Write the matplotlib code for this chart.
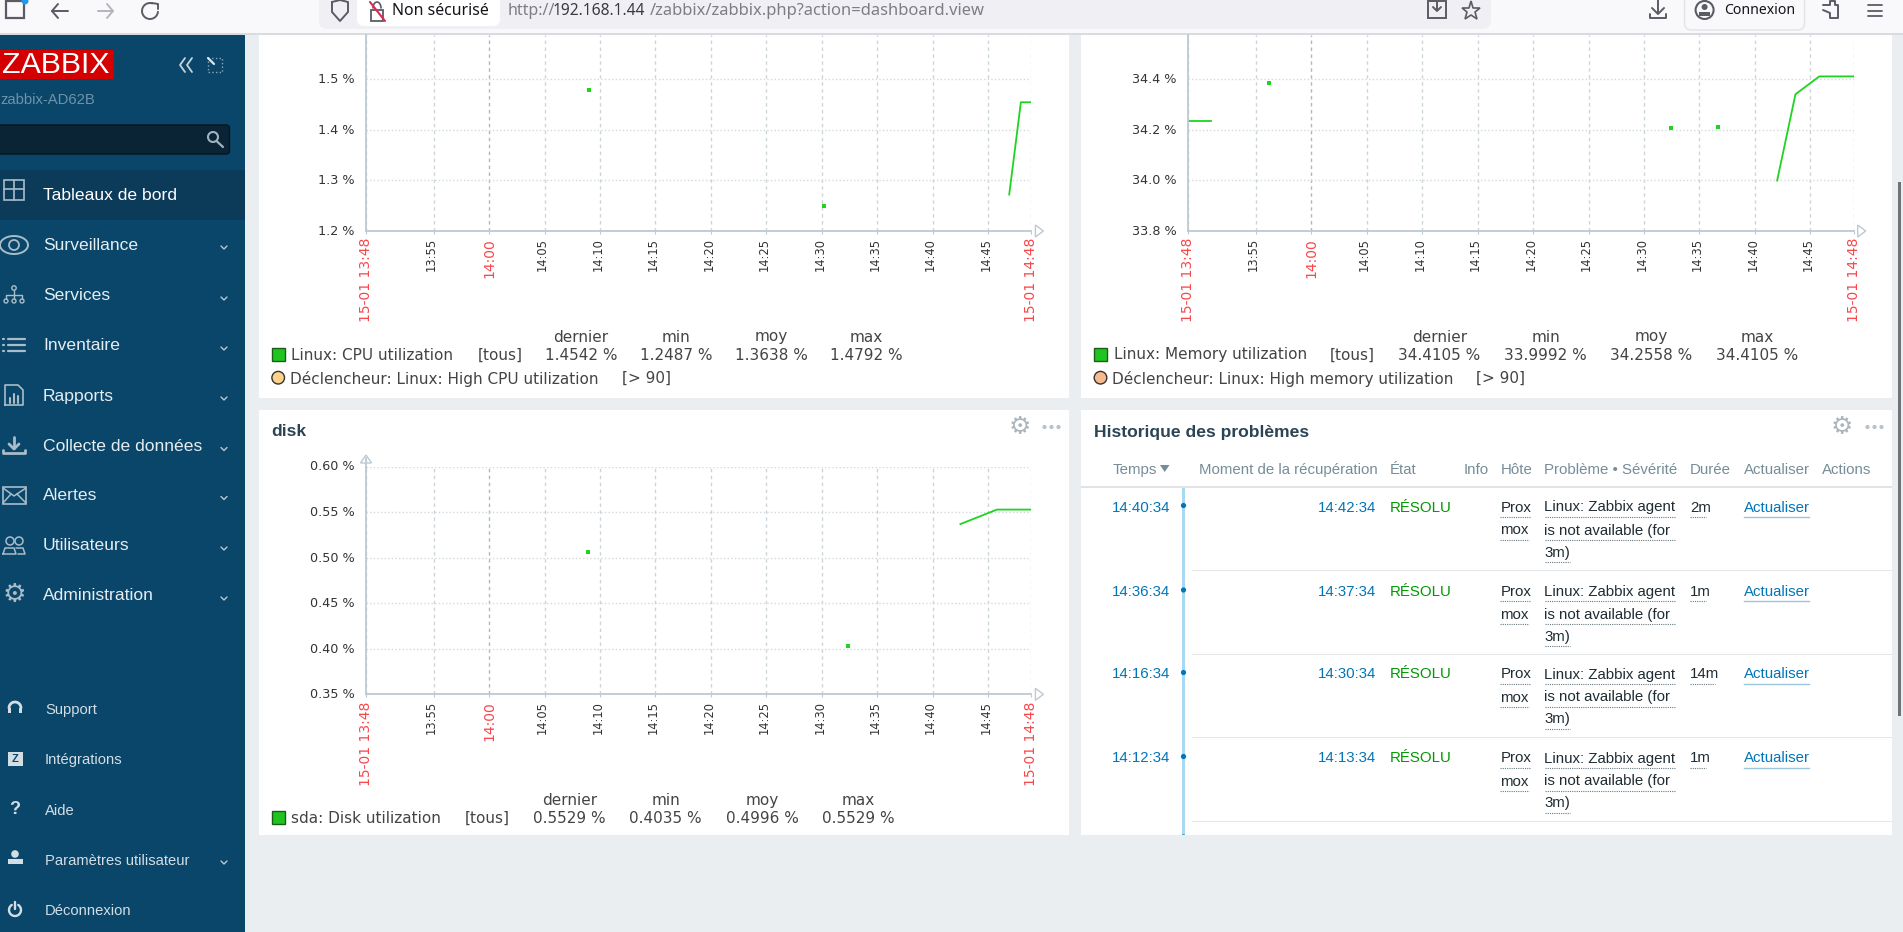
import numpy as np
import matplotlib
matplotlib.use("Agg")
import matplotlib.pyplot as plt
from matplotlib.patches import Rectangle, FancyBboxPatch, Circle, Polygon
from matplotlib.transforms import ScaledTranslation

W, H = 1903, 932

# time axis, minutes after 13:00
window = [48.9, 108.9]
tick_minutes = [55, 60, 65, 70, 75, 80, 85, 90, 95, 100, 105]
tick_labels = ["13:55", "14:00", "14:05", "14:10", "14:15", "14:20", "14:25", "14:30", "14:35", "14:40", "14:45"]
edge_start = "15-01 13:48"
edge_end = "15-01 14:48"

cpu_line_t = [106.9, 107.95, 108.9]
cpu_line_v = [1.272, 1.4542, 1.4542]
cpu_point_t = [69.03, 90.2]
cpu_point_v = [1.4792, 1.2487]
cpu_yticks = [1.2, 1.3, 1.4, 1.5]
cpu_stats = ["1.4542 %", "1.2487 %", "1.3638 %", "1.4792 %"]

mem_seg_t = [48.9, 50.95]
mem_seg_v = [34.235, 34.235]
mem_line_t = [102.0, 103.65, 105.8, 108.9]
mem_line_v = [33.9992, 34.34, 34.4105, 34.4105]
mem_point_t = [56.2, 92.4, 96.7]
mem_point_v = [34.385, 34.207, 34.212]
mem_yticks = [33.8, 34.0, 34.2, 34.4]
mem_stats = ["34.4105 %", "33.9992 %", "34.2558 %", "34.4105 %"]

disk_line_t = [102.5, 105.8, 108.9]
disk_line_v = [0.537, 0.5529, 0.5529]
disk_point_t = [68.95, 92.4]
disk_point_v = [0.506, 0.4035]
disk_yticks = [0.35, 0.40, 0.45, 0.50, 0.55, 0.60]
disk_stats = ["0.5529 %", "0.4035 %", "0.4996 %", "0.5529 %"]

stat_names = ["dernier", "min", "moy", "max"]

menu_main = ["Tableaux de bord", "Surveillance", "Services", "Inventaire", "Rapports",
             "Collecte de données", "Alertes", "Utilisateurs", "Administration"]
menu_low = ["Support", "Intégrations", "Aide", "Paramètres utilisateur", "Déconnexion"]

table_heads = ["Moment de la récupération", "État", "Info", "Hôte", "Problème • Sévérité", "Durée", "Actualiser", "Actions"]
start_times = ["14:40:34", "14:36:34", "14:16:34", "14:12:34"]
end_times = ["14:42:34", "14:37:34", "14:30:34", "14:13:34"]
durations = ["2m", "1m", "14m", "1m"]

BG = "#ebeef0"
SIDE = "#0a466a"
GREEN = "#1fd41f"
SANS = "Liberation Sans"
BROWSER = "Noto Sans"
LEG = 15.2

fig = plt.figure(figsize=(W / 100, H / 100), dpi=100, facecolor=BG)
ui = fig.add_axes([0, 0, 1, 1], zorder=-1)
ui.set_xlim(0, W)
ui.set_ylim(H, 0)
ui.axis("off")


def txt(x, y, s, px=14, color="#333333", ha="left", va="center", family=SANS, **kw):
    return ui.text(x, y, s, fontsize=px * 0.72, color=color, ha=ha, va=va, family=family, **kw)


def rect(x0, y0, x1, y1, color, z=1, **kw):
    ui.add_patch(Rectangle((x0, y0), x1 - x0, y1 - y0, facecolor=color, edgecolor="none", zorder=z, **kw))


def stroke(xs, ys, color, lw=1.4, z=5):
    ui.plot(xs, ys, color=color, lw=lw, solid_capstyle="round", zorder=z)


def px_axes(x0, x1, y_base, y_top):
    return fig.add_axes([x0 / W, 1 - y_base / H, (x1 - x0) / W, (y_base - y_top) / H], facecolor="none")


def graph(x0, x1, y_base, y_top, ylim, yticks, yfmt):
    ax = px_axes(x0, x1, y_base, y_top)
    ax.set_xlim(window)
    ax.set_ylim(ylim)
    ax.spines["top"].set_visible(False)
    ax.spines["right"].set_visible(False)
    ax.spines["left"].set_color("#bccad3")
    ax.spines["bottom"].set_color("#bccad3")
    ax.spines["left"].set_linewidth(1.3)
    ax.spines["bottom"].set_linewidth(1.3)
    ax.set_yticks(yticks)
    ax.set_yticklabels([yfmt % v for v in yticks], fontsize=9.2, color="#333333", family="DejaVu Sans")
    ax.tick_params(axis="y", length=0, pad=8)
    ax.set_xticks([window[0]] + tick_minutes + [window[1]])
    ax.set_xticklabels([edge_start] + tick_labels + [edge_end], rotation=90, family="DejaVu Sans")
    ax.tick_params(axis="x", length=2, color="#bccad3", pad=3)
    left_shift = ScaledTranslation(-2 / 100, 0, fig.dpi_scale_trans)
    up_shift = ScaledTranslation(0, 1.2 / 100, fig.dpi_scale_trans)
    for lab in ax.get_yticklabels():
        lab.set_transform(lab.get_transform() + up_shift)
    for lab in ax.get_xticklabels():
        if lab.get_text() in (edge_start, edge_end, "14:00"):
            lab.set_color("#f9474b")
            lab.set_fontsize(10)
        else:
            lab.set_color("#333333")
            lab.set_fontsize(8.3)
            lab.set_transform(lab.get_transform() + left_shift)
    ax.grid(axis="y", color="#d3dade", lw=1, ls=(0, (1, 1.6)))
    ax.grid(axis="x", color="#ccd5da", lw=1, ls=(0, (2.5, 2.5)))
    ax.get_xgridlines()[2].set_color("#a9bac4")
    ax.set_axisbelow(True)
    # axis end arrow
    ui.add_patch(Polygon([[x1 + 4, y_base - 6], [x1 + 4, y_base + 6], [x1 + 12, y_base]], closed=True,
                         facecolor="white", edgecolor="#bccad3", lw=1, zorder=4))
    return ax


def legend_row(x_box, y, label, tag_x, stats, col_x):
    rect(x_box, y - 6.5, x_box + 13, y + 6.5, "#1fc41f", z=3)
    ui.add_patch(Rectangle((x_box, y - 6.5), 13, 13, facecolor="none", edgecolor="#1b5c1b", lw=1, zorder=4))
    txt(x_box + 19.5, y + 1, label, px=LEG, family="DejaVu Sans", color="#444444")
    txt(tag_x, y + 1, "[tous]", px=LEG, family="DejaVu Sans", ha="center", color="#444444")
    for name, val, cx in zip(stat_names, stats, col_x):
        txt(cx, y - 17, name, px=LEG, family="DejaVu Sans", ha="center", color="#444444")
        txt(cx, y + 1, val, px=LEG, family="DejaVu Sans", ha="center", color="#444444")


def trigger_row(x_box, y, label, tag_x, color):
    ui.add_patch(Circle((x_box + 6.5, y), 6.3, facecolor=color, edgecolor="#333333", lw=1, zorder=4))
    txt(x_box + 18.5, y + 1, label, px=LEG, family="DejaVu Sans", color="#444444")
    txt(tag_x, y + 1, "[> 90]", px=LEG, family="DejaVu Sans", color="#444444")


def head_icons(xg, xd, y):
    txt(xg, y, "\u2699", px=25, color="#aab5bc", ha="center", family="DejaVu Sans", fontweight="bold")
    for dx in (-7, 0, 7):
        ui.add_patch(Circle((xd + dx, y), 2.1, facecolor="#b8c2c8", edgecolor="none", zorder=4))


# panels
rect(258.5, 35, 1069, 398, "white")
rect(1080.6, 35, 1892, 398, "white")
rect(258.5, 409.7, 1069, 835, "white")
rect(1080.6, 409.7, 1892, 835, "white")

# cpu graph
ax1 = graph(366, 1031.4, 231, 35, (1.2, 1.587), cpu_yticks, "%.1f %%")
ax1.plot(cpu_line_t, cpu_line_v, color=GREEN, lw=1.3)
ax1.plot(cpu_point_t, cpu_point_v, ls="none", marker="s", ms=2.6, color=GREEN, mew=0)
legend_row(271.7, 354, "Linux: CPU utilization", 500, cpu_stats, [581, 676, 771.5, 866.7])
trigger_row(271.7, 377.7, "Déclencheur: Linux: High CPU utilization", 622, "#ffd28c")

# memory graph
ax2 = graph(1188, 1853.7, 231, 35, (33.8, 34.574), mem_yticks, "%.1f %%")
ax2.plot(mem_seg_t, mem_seg_v, color=GREEN, lw=1.3)
ax2.plot(mem_line_t, mem_line_v, color=GREEN, lw=1.3)
ax2.plot(mem_point_t, mem_point_v, ls="none", marker="s", ms=2.6, color=GREEN, mew=0)
legend_row(1094, 354, "Linux: Memory utilization", 1352, mem_stats, [1439.3, 1545.6, 1651, 1757.6])
trigger_row(1094, 377.7, "Déclencheur: Linux: High memory utilization", 1476.5, "#f9b98f")

# disk graph
ax3 = graph(366, 1031.4, 694.3, 466.7, (0.35, 0.60), disk_yticks, "%.2f %%")
ax3.plot(disk_line_t, disk_line_v, color=GREEN, lw=1.3)
ax3.plot(disk_point_t, disk_point_v, ls="none", marker="s", ms=2.6, color=GREEN, mew=0)
stroke([366, 366], [466.7, 458], "#bccad3", lw=1.3)
ui.add_patch(Polygon([[360.5, 463], [371.5, 463], [366, 455]], closed=True, facecolor="white",
                     edgecolor="#bccad3", lw=1, zorder=4))
legend_row(271.7, 817.3, "sda: Disk utilization", 487.7, disk_stats, [569.7, 665.6, 762, 858.3])
txt(271, 432, "disk", px=17.5, color="#2b4555", fontweight="bold")
head_icons(1019.7, 1051.5, 427)

# problems table
CELL = 15
txt(1094, 432, "Historique des problèmes", px=17.5, color="#2b4555", fontweight="bold")
head_icons(1841.5, 1874.5, 427)
HEAD = "#768d99"
txt(1112.5, 470, "Temps", px=CELL, color=HEAD)
ui.add_patch(Polygon([[1160, 465], [1169.5, 465], [1164.7, 472]], closed=True, facecolor=HEAD, edgecolor="none"))
for s, x in zip(table_heads, [1198.6, 1389.3, 1463.7, 1500.4, 1544.5, 1690, 1743.7, 1821.8]):
    txt(x, 470, s, px=CELL, color=HEAD)
rect(1080.6, 485.5, 1892, 488, "#dfe4e7")
rect(1182, 488, 1185, 835, "#a9d8f2", z=2)
for sy in [570.3, 654.3, 737.7, 821.3]:
    rect(1192, sy - 0.5, 1892, sy + 0.5, "#e4e8ea")
LINK = "#0275b8"
for st, en, du, y in zip(start_times, end_times, durations, [507.5, 592, 674.5, 758.5]):
    txt(1170, y, st, px=CELL, color=LINK, ha="right")
    txt(1376.6, y, en, px=CELL, color=LINK, ha="right")
    txt(1389.3, y, "RÉSOLU", px=CELL, color="#009900")
    ui.add_patch(Circle((1183.5, y - 2), 2.6, facecolor=LINK, edgecolor="none", zorder=4))
    txt(1500.4, y, "Prox", px=CELL, color="#1f2c33")
    txt(1500.4, y + 23, "mox", px=CELL, color="#1f2c33")
    txt(1544.5, y, "Linux: Zabbix agent", px=CELL, color="#1f2c33")
    txt(1544.5, y + 23, "is not available (for", px=CELL, color="#1f2c33")
    txt(1544.5, y + 45, "3m)", px=CELL, color="#1f2c33")
    txt(1690, y, du, px=CELL, color="#1f2c33")
    txt(1743.7, y, "Actualiser", px=CELL, color=LINK)
    ui.plot([1743.7, 1809], [y + 9, y + 9], color="#9cc6e0", lw=1)
    ui.plot([1500.4, 1531], [y + 9, y + 9], color="#6b7980", lw=0.8, ls=(0, (1, 1)))
    ui.plot([1500.4, 1529], [y + 32, y + 32], color="#6b7980", lw=0.8, ls=(0, (1, 1)))
    ui.plot([1544.5, 1676], [y + 9, y + 9], color="#6b7980", lw=0.8, ls=(0, (1, 1)))
    ui.plot([1544.5, 1675], [y + 32, y + 32], color="#6b7980", lw=0.8, ls=(0, (1, 1)))
    ui.plot([1544.5, 1570], [y + 54, y + 54], color="#6b7980", lw=0.8, ls=(0, (1, 1)))
    ui.plot([1690, 1690 + 8.2 * len(du)], [y + 9, y + 9], color="#6b7980", lw=0.8, ls=(0, (1, 1)))
# row cut off by the panel edge
txt(1170, 842, "14:00", px=CELL, color="#1f2c33", ha="right", zorder=2)
ui.add_patch(Circle((1183.5, 837), 2.6, facecolor=LINK, edgecolor="none", zorder=2))
rect(245, 835, W, H, BG, z=3)
rect(1897.5, 182, 1900.5, 716, "#6d7378", z=6)

# sidebar
rect(0, 34, 245, H, SIDE, z=7)
rect(0, 170, 245, 220, "#0c3a59", z=7)
rect(0, 50, 113.5, 79, "#d40000", z=8)
ui.text(2, 65, "ZABBIX", fontsize=21.8, color="white", va="center", family=SANS, zorder=9)
ui.text(0, 100, "zabbix-AD62B", fontsize=10.6, color="#6f93a8", va="center", family=SANS, zorder=9)
ui.add_patch(FancyBboxPatch((-6, 125), 235.5, 29, boxstyle="round,pad=0,rounding_size=3",
                            facecolor="#0a2435", edgecolor="#06141d", lw=1, zorder=8))
ui.add_patch(Circle((213, 137), 5, facecolor="none", edgecolor="#9fb3bf", lw=1.5, zorder=9))
stroke([216.5, 223], [141, 147], "#9fb3bf", lw=1.6, z=9)
for xc in (180, 187):
    stroke([xc + 5, xc, xc + 5], [58, 65, 72], "#c7d3da", lw=1.3, z=9)
ui.add_patch(Rectangle((208, 58), 14, 14, facecolor="none", edgecolor="#8fa6b4", lw=1, ls=":", zorder=9))
stroke([208, 214], [58, 64], "#dfe7ec", lw=1.6, z=9)

main_y = [195.5, 245, 296, 346, 396, 446.5, 495.5, 546, 596]
for s, y in zip(menu_main, main_y):
    ui.text(43, y, s, fontsize=12.6, color="white" if y == 195.5 else "#e6edf1", va="center", family=SANS, zorder=9)
    if y != 195.5:
        stroke([221, 224, 227], [y + 1, y + 4, y + 1], "#b9c9d2", lw=1, z=9)
low_y = [710, 760, 811, 861, 911]
for s, y in zip(menu_low, low_y):
    ui.text(45, y, s, fontsize=10.6, color="#d3dee4", va="center", family=SANS, zorder=9)
stroke([221, 224, 227], [861, 864, 861], "#b9c9d2", lw=1, z=9)

IC = "#a9bcc8"
# dashboard
ui.add_patch(Rectangle((4, 180), 20, 20, facecolor="none", edgecolor=IC, lw=1.2, zorder=9))
stroke([14, 14], [180, 200], IC, lw=1.2, z=9)
stroke([4, 24], [189, 189], IC, lw=1.2, z=9)
# eye
t = np.linspace(0, np.pi, 30)
stroke(14 * np.cos(t) + 14, 9 * np.sin(t) + 245, IC, z=9)
stroke(14 * np.cos(t) + 14, -9 * np.sin(t) + 245, IC, z=9)
ui.add_patch(Circle((14, 245), 5, facecolor="none", edgecolor=IC, lw=1.3, zorder=9))
# services
for xc in (6, 14, 22):
    ui.add_patch(Circle((xc, 301), 2, facecolor="none", edgecolor=IC, lw=1, zorder=9))
ui.add_patch(Circle((14, 288), 2.2, facecolor="none", edgecolor=IC, lw=1, zorder=9))
stroke([14, 14], [290, 299], IC, lw=1, z=9)
stroke([6, 6, 22, 22], [299, 295, 295, 299], IC, lw=1, z=9)
# inventory
for yy in (339, 345, 351):
    stroke([8, 25], [yy, yy], IC, lw=1.6, z=9)
    stroke([3, 4], [yy, yy], IC, lw=1.6, z=9)
# reports
stroke([5, 5, 18, 23, 23, 5], [405, 385, 385, 390, 405, 405], IC, lw=1.2, z=9)
for xc, top in zip((10, 14, 18), (398, 394, 396)):
    stroke([xc, xc], [403, top], IC, lw=1.5, z=9)
# collecte
stroke([14, 14], [437, 448], IC, lw=2, z=9)
stroke([9, 14, 19], [444, 449, 444], IC, lw=2, z=9)
stroke([3, 3, 25, 25], [450, 453, 453, 450], IC, lw=2, z=9)
# alerts
ui.add_patch(Rectangle((3, 487), 23, 17, facecolor="none", edgecolor=IC, lw=1.2, zorder=9))
stroke([3, 14, 26], [488, 496, 488], IC, lw=1.1, z=9)
stroke([3, 11], [503, 494], IC, lw=1.1, z=9)
stroke([26, 17], [503, 494], IC, lw=1.1, z=9)
# users
ui.add_patch(Circle((10, 541), 4, facecolor="none", edgecolor=IC, lw=1.1, zorder=9))
ui.add_patch(Circle((19, 541), 4, facecolor="none", edgecolor=IC, lw=1.1, zorder=9))
stroke([3, 5, 14, 16, 3], [554, 548, 548, 554, 554], IC, lw=1.1, z=9)
stroke([16, 23, 25, 18], [548, 548, 554, 554], IC, lw=1.1, z=9)
# admin
ui.text(14, 595, "\u2699", fontsize=19, color=IC, ha="center", va="center", family="DejaVu Sans", zorder=9)
# lower icons
a = np.linspace(np.pi, 2 * np.pi, 20)
stroke(15 + 6 * np.cos(a), 708 + 6 * np.sin(a), "#d3dee4", lw=2, z=9)
rect(8, 708, 11, 713, "#d3dee4", z=9)
rect(19, 708, 22, 713, "#d3dee4", z=9)
ui.add_patch(Rectangle((8, 752), 15, 14, facecolor="#d3dee4", edgecolor="none", zorder=9))
ui.text(15.5, 759, "Z", fontsize=8, color=SIDE, ha="center", va="center", fontweight="bold", family=SANS, zorder=10)
ui.text(15, 809, "?", fontsize=13, color="#d3dee4", ha="center", va="center", family=SANS, fontweight="bold", zorder=9)
ui.add_patch(Circle((15, 854), 3.8, facecolor="#d3dee4", edgecolor="none", zorder=9))
ui.add_patch(Rectangle((8, 859), 15, 5, facecolor="#d3dee4", edgecolor="none", zorder=9))
a = np.linspace(-1.0, np.pi + 1.0, 30)
stroke(15 + 6 * np.cos(a), 910 + 6 * np.sin(a), "#d3dee4", lw=1.7, z=9)
stroke([15, 15], [902, 909], "#d3dee4", lw=1.7, z=9)

# browser bar
rect(0, 0, W, 33, "#f9f9fb", z=10)
rect(0, 33, W, 34.5, "#d9dbdf", z=10)
ui.add_patch(FancyBboxPatch((319, -10), 1172, 39, boxstyle="round,pad=0,rounding_size=9",
                            facecolor="#f0f0f4", edgecolor="none", zorder=11))
ui.add_patch(FancyBboxPatch((357, -10), 143, 36, boxstyle="round,pad=0,rounding_size=7",
                            facecolor="white", edgecolor="none", zorder=12))
ui.text(392, 11, "Non sécurisé", fontsize=11.4, color="#15141a", va="center", family=BROWSER, zorder=13)
ui.text(508, 11, "http://", fontsize=11.5, color="#7d7d85", va="center", family=BROWSER, zorder=13)
ui.text(553, 11, "192.168.1.44", fontsize=11.2, color="#3a3a42", va="center", family=BROWSER, zorder=13)
ui.text(650, 11, "/zabbix/zabbix.php?action=dashboard.view", fontsize=11.9, color="#7d7d85", va="center",
        family=BROWSER, zorder=13)
ICB = "#5b5b66"
# tab box
ui.add_patch(Rectangle((6, 1), 18, 17, facecolor="none", edgecolor=ICB, lw=1.6, zorder=13))
ui.add_patch(Circle((25, 1), 3.5, facecolor="#1e9bf0", edgecolor="none", zorder=14))
# nav
stroke([68, 52], [11, 11], ICB, z=13)
stroke([58, 52, 58], [4, 11, 18], ICB, z=13)
stroke([98, 113], [11, 11], "#b5b5bb", z=13)
stroke([107, 113, 107], [4, 11, 18], "#b5b5bb", z=13)
a = np.linspace(0.1, 5.0, 30)
stroke(150 + 8 * np.cos(a), 11 + 8 * np.sin(a), ICB, z=13)
stroke([152, 158, 158], [3, 4, 9], ICB, z=13)
# shield, lock
stroke([332, 340, 348, 348, 340, 332, 332], [2, 0, 2, 12, 21, 12, 2], ICB, z=13)
ui.add_patch(Rectangle((371, 10), 12, 11, facecolor="none", edgecolor=ICB, lw=1.3, zorder=13))
a = np.linspace(np.pi, 2 * np.pi, 15)
stroke(377 + 4 * np.cos(a), 8 + 6 * np.sin(a), ICB, lw=1.2, z=13)
stroke([370, 385], [2, 21], "#e22850", lw=1.5, z=14)
# save, star
ui.add_patch(Rectangle((1428, 1), 18, 17, facecolor="none", edgecolor=ICB, lw=1.4, zorder=13))
stroke([1437, 1437], [2, 10], ICB, z=13)
stroke([1433, 1437, 1441], [7, 11, 7], ICB, z=13)
ui.plot([1471], [11], marker="*", ms=14, mfc="none", mec=ICB, mew=1.2, zorder=13)
# download
stroke([1658, 1658], [0, 13], ICB, z=13)
stroke([1652, 1658, 1664], [8, 14, 8], ICB, z=13)
stroke([1650, 1650, 1666, 1666], [14, 18, 18, 14], ICB, z=13)
# account
ui.add_patch(FancyBboxPatch((1684.6, -10), 120, 40, boxstyle="round,pad=0,rounding_size=7",
                            facecolor="#f9f9fb", edgecolor="#e3e3e8", lw=1, zorder=11))
ui.add_patch(Circle((1704.6, 10), 9, facecolor="none", edgecolor=ICB, lw=1.5, zorder=13))
ui.add_patch(Circle((1704.6, 7), 3, facecolor=ICB, edgecolor="none", zorder=13))
ui.add_patch(Rectangle((1699, 12), 11, 4, facecolor=ICB, edgecolor="none", zorder=13))
ui.text(1724, 10, "Connexion", fontsize=10.1, color="#15141a", va="center", family=BROWSER, zorder=13)
# extensions, menu
stroke([1823, 1830, 1830, 1835, 1835, 1838, 1838, 1830, 1830, 1823], [5, 5, 1, 1, 5, 5, 18, 18, 13, 10], ICB, z=13)
for yy in (5, 11, 16):
    stroke([1868, 1882], [yy, yy], ICB, lw=1.3, z=13)

fig.savefig("out.png", dpi=100, facecolor=BG)
